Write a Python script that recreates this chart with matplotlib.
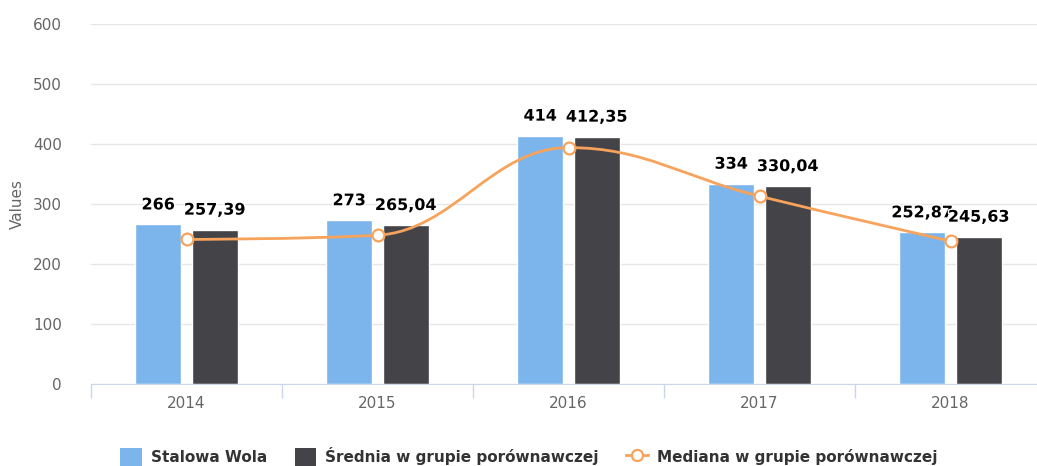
import numpy as np
import matplotlib.pyplot as plt
from matplotlib.path import Path
from matplotlib.patches import PathPatch
from matplotlib.lines import Line2D
from matplotlib.patches import Patch
import matplotlib.patheffects as pe

years = ["2014", "2015", "2016", "2017", "2018"]
stalowa = [266, 273, 414, 334, 252.87]
srednia = [257.39, 265.04, 412.35, 330.04, 245.63]
mediana = [241, 248, 394, 313, 238]
stalowa_lbl = ["266", "273", "414", "334", "252,87"]
srednia_lbl = ["257,39", "265,04", "412,35", "330,04", "245,63"]

c_light = "#7cb5ec"
c_dark = "#434348"
c_med = "#f7a35c"

W, H = 1037, 466
fig = plt.figure(figsize=(W / 100, H / 100), dpi=100)
# plot area runs past the right edge of the picture, like the original
ax = fig.add_axes([91 / W, (H - 384) / H, 955 / W, 360 / H])

x = np.arange(len(years))
bw = 0.24
off = 0.148
ax.bar(x - off, stalowa, bw, color=c_light, edgecolor="white", linewidth=1, zorder=2)
ax.bar(x + off, srednia, bw, color=c_dark, edgecolor="white", linewidth=1, zorder=2)

outline = [pe.withStroke(linewidth=2, foreground="white")]
for i in range(len(years)):
    ax.annotate(stalowa_lbl[i], (x[i] - off, stalowa[i]), xytext=(0, 14), textcoords="offset points",
                ha="center", va="center", fontsize=11.5, fontweight="bold", color="black",
                path_effects=outline, zorder=5)
    ax.annotate(srednia_lbl[i], (x[i] + off, srednia[i]), xytext=(0, 14), textcoords="offset points",
                ha="center", va="center", fontsize=11.5, fontweight="bold", color="black",
                path_effects=outline, zorder=5)

# highcharts-style spline through the median points
def spline_path(xs, ys, smoothing=1.5):
    n = len(xs)
    denom = smoothing + 1
    lc = [(xs[i], ys[i]) for i in range(n)]
    rc = [(xs[i], ys[i]) for i in range(n)]
    for i in range(1, n - 1):
        px, py = xs[i], ys[i]
        lx, ly = xs[i - 1], ys[i - 1]
        nx, ny = xs[i + 1], ys[i + 1]
        lcx = (smoothing * px + lx) / denom
        lcy = (smoothing * py + ly) / denom
        rcx = (smoothing * px + nx) / denom
        rcy = (smoothing * py + ny) / denom
        if rcx != lcx:
            corr = (rcy - lcy) * (rcx - px) / (rcx - lcx) + py - rcy
            lcy += corr
            rcy += corr
        if lcy > ly and lcy > py:
            lcy = max(ly, py)
            rcy = 2 * py - lcy
        elif lcy < ly and lcy < py:
            lcy = min(ly, py)
            rcy = 2 * py - lcy
        if rcy > ny and rcy > py:
            rcy = max(ny, py)
            lcy = 2 * py - rcy
        elif rcy < ny and rcy < py:
            rcy = min(ny, py)
            lcy = 2 * py - rcy
        lc[i] = (lcx, lcy)
        rc[i] = (rcx, rcy)
    verts = [(xs[0], ys[0])]
    codes = [Path.MOVETO]
    for i in range(1, n):
        verts += [rc[i - 1], lc[i], (xs[i], ys[i])]
        codes += [Path.CURVE4] * 3
    return Path(verts, codes)

ax.add_patch(PathPatch(spline_path(list(x), mediana), facecolor="none", edgecolor=c_med,
                       linewidth=2, zorder=3, capstyle="round"))
ax.plot(x, mediana, linestyle="none", marker="o", markersize=8.5, markerfacecolor="white",
        markeredgecolor=c_med, markeredgewidth=1.6, zorder=4)

ax.set_xlim(-0.5, len(years) - 0.5)
ax.set_ylim(0, 600)
ax.set_yticks(range(0, 601, 100))
ax.yaxis.grid(True, color="#e6e6e6", linewidth=1)
ax.set_axisbelow(True)
for s in ["top", "right", "left"]:
    ax.spines[s].set_visible(False)
ax.spines["bottom"].set_color("#ccd6eb")
ax.tick_params(axis="y", length=0, pad=21, labelsize=11, labelcolor="#666666")
ax.set_xticks(x)
ax.set_xticklabels(years)
ax.tick_params(axis="x", length=0, pad=9, labelsize=11, labelcolor="#666666")
ax.set_xticks(np.arange(-0.5, len(years), 1), minor=True)
ax.tick_params(axis="x", which="minor", length=10, color="#ccd6eb", width=1)
ax.set_ylabel("Values", fontsize=11, color="#666666", labelpad=6)

handles = [
    Patch(facecolor=c_light, edgecolor="none", label="Stalowa Wola"),
    Patch(facecolor=c_dark, edgecolor="none", label="Średnia w grupie porównawczej"),
    Line2D([0], [0], color=c_med, linewidth=2, marker="o", markersize=8, markerfacecolor="white",
           markeredgecolor=c_med, markeredgewidth=1.6, label="Mediana w grupie porównawczej"),
]
leg = fig.legend(handles=handles, loc="center", bbox_to_anchor=(0.51, 0.02), ncol=3, frameon=False,
                 prop={"size": 11, "weight": "bold"}, handlelength=1.4, handleheight=1.4,
                 columnspacing=1.8, handletextpad=0.6)
for t in leg.get_texts():
    t.set_color("#333333")

fig.savefig("out.png", dpi=100)
